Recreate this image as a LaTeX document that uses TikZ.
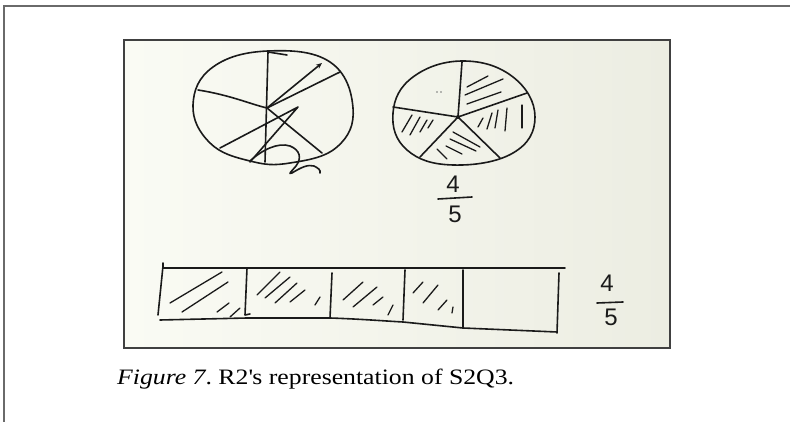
\documentclass[tikz,border=0pt]{standalone}
\usepackage{fontspec}
\setmainfont{Liberation Serif}
\newfontfamily\capfont[FakeStretch=1.17]{Liberation Serif}
\newfontfamily\handfont{Liberation Sans}
\usetikzlibrary{arrows.meta,positioning}

\definecolor{paperL}{HTML}{FAFBF4}
\definecolor{paperR}{HTML}{ECEDE2}
\definecolor{ink}{HTML}{1A1A1A}
\definecolor{framegray}{HTML}{6A6A6A}

\begin{document}
\begin{tikzpicture}[x=1pt,y=-1pt,
  pen/.style={ink, line width=1.6pt, line cap=round, line join=round},
  hatch/.style={ink, line width=1.3pt, line cap=round},
  digit/.style={font=\handfont\fontsize{24}{24}\selectfont, inner sep=0pt, text=ink}]
  \useasboundingbox (0,0) rectangle (790,422);

  % page frame and photo
  \draw[framegray, line width=2pt] (790,6) -- (4,6) -- (4,422);
  \shade[left color=paperL, right color=paperR] (124,40) rectangle (670,348);
  \draw[black!75, line width=1.5pt] (124,40) rectangle (670,348);

  % left circle
  \draw[pen] plot[smooth cycle, tension=0.7] coordinates {(268,51) (330,62) (353,108) (337,147) (290,163) (250,161) (210,143) (193,105) (213,67)};
  \coordinate (lc) at (267,108);
  \draw[pen] (287,55) -- (268,52) -- (265,162);
  \draw[pen] (198,90) .. controls (230,95) and (250,104) .. (lc);
  \draw[pen] (lc) -- (340,72);
  \draw[pen, -{Stealth[length=6pt,width=5pt]}] (lc) -- (322,63);
  \draw[pen] (lc) -- (322,153);
  \draw[pen] (220,148) -- (298,107) -- (250,162);
  \draw[pen] (250,161) .. controls (262,150) and (278,142) .. (290,146) .. controls (300,150) and (302,158) .. (296,166) .. controls (292,171) and (287,175) .. (292,173) .. controls (300,168) and (308,164) .. (314,166) .. controls (318,168) and (321,170) .. (320,173);

  % right circle, 4 of 5 shaded
  \draw[pen] plot[smooth cycle, tension=0.7] coordinates {(463,61) (513,77) (535,117) (513,153) (453,165) (407,150) (393,113) (413,77)};
  \coordinate (rc) at (458,117);
  \foreach \p in {(462,62),(393,107),(527,93),(420,157),(500,158)} \draw[pen] (rc) -- \p;
  \fill[ink] (rc) circle (2pt);
  \foreach \xa/\ya/\xb/\yb in {467/87/488/76, 465/95/503/79, 467/104/501/92,
      478/127/483/118, 487/129/492/113, 495/128/498/110, 505/131/507/108, 522/128/522/105,
      453/132/480/147, 450/139/476/151, 446/146/462/154, 437/149/447/159,
      402/132/412/115, 410/135/420/117, 420/132/427/120, 428/128/433/120}
    \draw[hatch] (\xa,\ya) -- (\xb,\yb);
  \fill[ink!60] (437,92) circle (0.8pt) (441,92) circle (0.8pt);

  \node[digit] (m4) at (453,184) {4};
  \node[digit] (m5) at (455,214) {5};
  \draw[pen] (438,199) -- (472,197);

  % bar of five parts
  \draw[pen] (163,263) -- (163,268) -- (565,268);
  \draw[pen] (163,266) -- (158,315);
  \draw[pen] (160,320) -- (247,318) -- (330,318) .. controls (360,319) and (385,321) .. (403,322) -- (463,328) -- (557,332);
  \draw[pen] (247,268) -- (245,315) -- (250,314);
  \draw[pen] (332,273) -- (330,318);
  \draw[pen] (405,270) -- (403,320);
  \draw[pen] (463,270) -- (463,328);
  \draw[pen] (559,273) -- (557,333);
  \foreach \xa/\ya/\xb/\yb in {170/303/222/272, 182/312/228/282, 217/312/229/303, 230/317/240/308,
      257/295/280/272, 265/298/290/277, 275/303/297/283, 290/302/305/290, 315/305/320/297,
      343/300/363/282, 353/307/377/287, 373/305/383/297, 388/315/393/305,
      413/293/423/282, 423/303/438/285, 438/310/447/300, 452/313/453/307}
    \draw[hatch] (\xa,\ya) -- (\xb,\yb);

  \node[digit] (b4) at (607,283) {4};
  \node[digit] (b5) at (611,317) {5};
  \draw[pen] (597,303) -- (623,302);

  % caption
  \node[anchor=base west, inner sep=0pt, font=\capfont\fontsize{22}{26}\selectfont] (cap) at (117,384)
    {\textit{Figure 7}.\ R2\textquotesingle s representation of S2Q3.};
\end{tikzpicture}
\end{document}
